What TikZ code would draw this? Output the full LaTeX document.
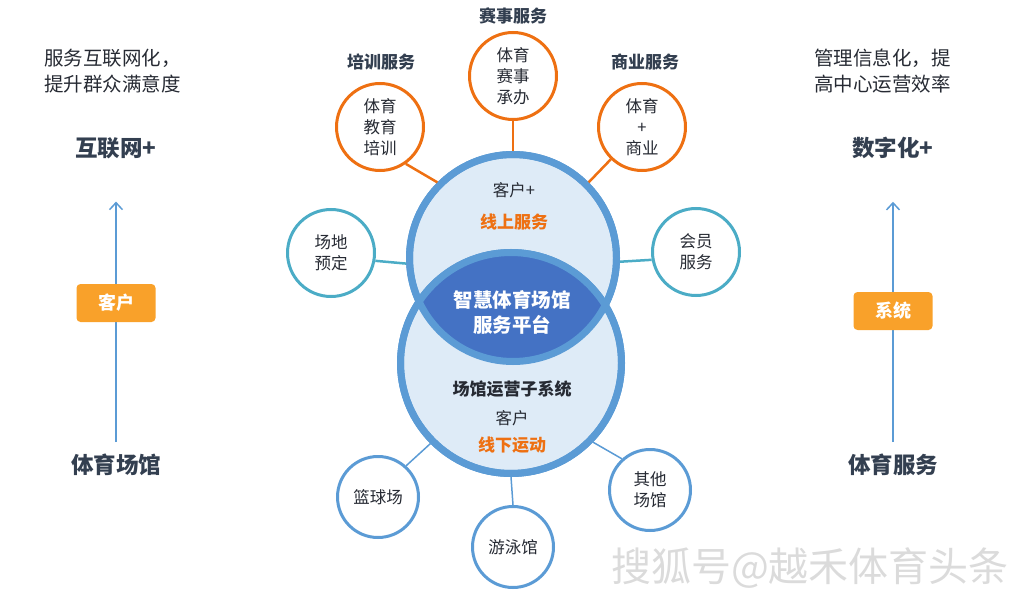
\documentclass[tikz,border=0pt]{standalone}
\usepackage{fontspec}
\setmainfont{Noto Sans CJK SC}
\usetikzlibrary{arrows.meta,positioning}

\definecolor{navy}{HTML}{333F50}
\definecolor{ink}{HTML}{262A33}
\definecolor{fireorange}{HTML}{EE7012}
\definecolor{tealblue}{HTML}{4BACC6}
\definecolor{skyblue}{HTML}{5B9BD5}
\definecolor{paleblue}{HTML}{DEEBF7}
\definecolor{lensblue}{HTML}{4472C4}
\definecolor{tagorange}{HTML}{F9A12A}

\newcommand{\cnsize}[2]{\fontsize{#1}{#2}\selectfont}

\tikzset{
  bigdisc/.style={circle, fill=paleblue, draw=skyblue, line width=7pt, inner sep=0pt},
  svcbase/.style={circle, fill=white, line width=3pt, inner sep=0pt, align=center,
    text=ink, font=\cnsize{16.5pt}{21pt}},
  svcorange/.style={svcbase, draw=fireorange, minimum size=87pt},
  svcteal/.style={svcbase, draw=tealblue, minimum size=87pt},
  svcblue/.style={svcbase, draw=skyblue, minimum size=81pt},
  grouptitle/.style={inner sep=0pt, text=navy, font=\bfseries\cnsize{17pt}{20pt}},
  heading/.style={inner sep=0pt, text=navy, font=\bfseries\cnsize{22.5pt}{24pt}},
  note/.style={inner sep=0pt, anchor=west, align=left, text=ink, font=\cnsize{19.5pt}{26pt}},
  tag/.style={fill=tagorange, rounded corners=4pt, minimum width=79pt, minimum height=38pt,
    text=white, font=\bfseries\cnsize{18pt}{20pt}},
  innertext/.style={inner sep=0pt, text=ink, font=\cnsize{16.5pt}{20pt}},
  accent/.style={inner sep=0pt, text=fireorange, font=\bfseries\cnsize{17pt}{20pt}},
  flowarrow/.style={draw=skyblue, line width=1.5pt, -{Straight Barb[length=7pt,width=13pt]}},
}

\begin{document}
\begin{tikzpicture}[x=1pt, y=-1pt]
\useasboundingbox (0,0) rectangle (1028,596);

% two platform circles and their overlap
\node[bigdisc, minimum size=207pt] (upper) at (513,258) {};
\node[bigdisc, minimum size=221pt] (lower) at (511,363) {};
\begin{scope}
  \clip (upper.center) circle[radius=103.5pt];
  \fill[lensblue] (lower.center) circle[radius=110.5pt];
\end{scope}
\draw[skyblue, line width=7pt] (upper.center) circle[radius=103.5pt];
\draw[skyblue, line width=7pt] (lower.center) circle[radius=110.5pt];

\node[innertext] (online1) at (514,190) {客户+};
\node[accent] (online2) at (514,222) {线上服务};
\node[inner sep=0pt, align=center, text=white, font=\bfseries\cnsize{19.5pt}{25pt}] (core) at (512,312) {智慧体育场馆\\服务平台};
\node[inner sep=0pt, text=ink, font=\bfseries\cnsize{17pt}{20pt}] (subsys) at (512,389) {场馆运营子系统};
\node[innertext] (offline1) at (512,418) {客户};
\node[accent] (offline2) at (512,445) {线下运动};

% service circles
\node[svcorange] (peixun) at (380,127) {体育\\教育\\培训};
\node[svcorange] (saishi) at (513,76) {体育\\赛事\\承办};
\node[svcorange] (shangye) at (642,127) {体育\\+\\商业};
\node[svcteal] (changdi) at (331,253) {场地\\预定};
\node[svcteal] (huiyuan) at (696,252) {会员\\服务};
\node[svcblue] (lanqiu) at (378,497) {篮球场};
\node[svcblue] (youyong) at (513,547) {游泳馆};
\node[svcblue] (qita) at (650,490) {其他\\场馆};

\node[grouptitle] (peixunT) at (381,62) {培训服务};
\node[grouptitle] (saishiT) at (513,16) {赛事服务};
\node[grouptitle] (shangyeT) at (645,62) {商业服务};

% connectors
\draw[fireorange, line width=2.5pt] (peixun.-55) -- (upper.135);
\draw[fireorange, line width=2.5pt] (saishi.south) -- (upper.north);
\draw[fireorange, line width=2.5pt] (shangye.-134) -- (upper.45);
\draw[tealblue, line width=2.5pt] (changdi.-10) -- (upper.183);
\draw[tealblue, line width=2.5pt] (huiyuan.190) -- (upper.-2);
\draw[skyblue, line width=1.5pt] (lanqiu.48) -- (lower.225);
\draw[skyblue, line width=1.5pt] (youyong.north) -- (lower.south);
\draw[skyblue, line width=1.5pt] (qita.132) -- (lower.-44);

% left column
\node[note] (leftnote) at (44,71) {服务互联网化，\\提升群众满意度};
\node[heading] (internet) at (116,148) {互联网+};
\node[heading] (venue) at (116,465) {体育场馆};
\draw[flowarrow] ([yshift=11.75pt]venue.north) -- ([yshift=-42.75pt]internet.south);
\node[tag] (client) at (116,303) {客户};

% right column
\node[note] (rightnote) at (814,71) {管理信息化，提\\高中心运营效率};
\node[heading] (digital) at (893,148) {数字化+};
\node[heading] (sport) at (893,465) {体育服务};
\draw[flowarrow] ([yshift=11.75pt]sport.north) -- ([yshift=-42.75pt]digital.south);
\node[tag] (system) at (893,311) {系统};

% watermark
\node[inner sep=0pt, text=black!14, font=\cnsize{40pt}{42pt}] (mark) at (810,568) {搜狐号@越禾体育头条};
\end{tikzpicture}
\end{document}
